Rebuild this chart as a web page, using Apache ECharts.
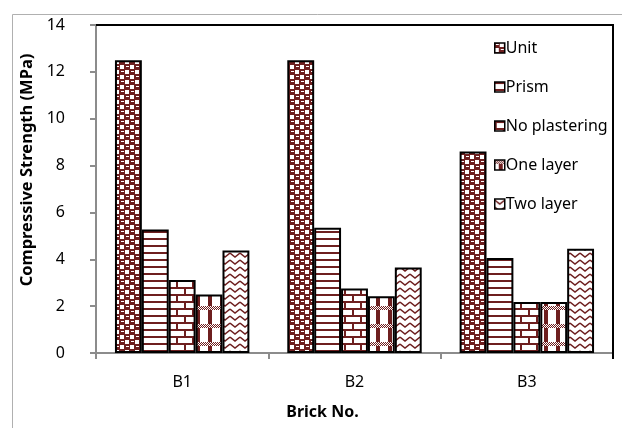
<!DOCTYPE html>
<html>
<head>
<meta charset="utf-8">
<script src="https://cdn.jsdelivr.net/npm/echarts@6/dist/echarts.min.js"></script>
<style>
  html, body { margin: 0; padding: 0; background: #fff; }
  #chart { width: 622px; height: 428px; }
</style>
</head>
<body>
<div id="chart"></div>
<script>
const bricks = ['B1', 'B2', 'B3'];
const seriesNames = ['Unit', 'Prism', 'No plastering', 'One layer', 'Two layer'];
const unit = [12.5, 12.5, 8.6];
const prism = [5.27, 5.35, 4.05];
const noPlastering = [3.12, 2.75, 2.18];
const oneLayer = [2.5, 2.42, 2.18];
const twoLayer = [4.37, 3.65, 4.45];
const yTicks = [0, 14, 2];

const RED = '#6e1f1f';
const W = 622, H = 428;
const GRID = { left: 96, right: 9, top: 25, bottom: 75 };

function tile(w, h, draw) {
  const c = document.createElement('canvas');
  c.width = w;
  c.height = h;
  const g = c.getContext('2d');
  g.fillStyle = '#fff';
  g.fillRect(0, 0, w, h);
  g.fillStyle = RED;
  g.strokeStyle = RED;
  draw(g);
  return { image: c, repeat: 'repeat' };
}

// hatch fills, roughly the Excel pattern fills
const patterns = [
  tile(10, 10, g => {
    g.fillRect(0, 0, 10, 10);
    g.fillStyle = '#fff';
    g.fillRect(5, 0, 4, 4); g.fillRect(0, 5, 4, 4);
    g.fillRect(1, 1, 3, 1); g.fillRect(6, 6, 3, 1);
  }),
  tile(4, 7, g => { g.fillRect(0, 0, 4, 2); }),
  tile(16, 14, g => {
    g.fillRect(0, 0, 16, 2); g.fillRect(0, 7, 16, 2);
    g.fillRect(0, 2, 2, 5); g.fillRect(8, 9, 2, 5);
  }),
  tile(12, 18, g => {
    g.fillRect(4, 0, 4, 18);
    for (let x = 0; x < 12; x++) {
      for (let y = 0; y < 4; y++) {
        g.fillStyle = (x + y) % 2 ? RED : '#fff';
        g.fillRect(x, y, 1, 1);
      }
    }
  }),
  tile(10, 7, g => {
    g.lineWidth = 1.5;
    g.beginPath(); g.moveTo(0, 1); g.lineTo(5, 5); g.lineTo(10, 1); g.stroke();
  })
];

const values = [unit, prism, noPlastering, oneLayer, twoLayer];
const font = '"Noto Sans", sans-serif';

const xR = W - GRID.right;
const yB = H - GRID.bottom;

const chart = echarts.init(document.getElementById('chart'));
chart.setOption({
  animation: false,
  backgroundColor: '#fff',
  textStyle: { fontFamily: font },
  grid: Object.assign({ show: true, borderColor: '#000', borderWidth: 2 }, GRID),
  graphic: {
    elements: [{
      type: 'rect',
      left: 10, top: 12,
      shape: { width: 700, height: 500 },
      style: { fill: null, stroke: '#b0b0b0', lineWidth: 1 },
      silent: true
    }, {
      // black top and right edges of the plot box
      type: 'rect',
      left: GRID.left, top: GRID.top - 1,
      shape: { width: xR - GRID.left, height: 2 },
      style: { fill: '#000' },
      z: 100,
      silent: true
    }, {
      type: 'rect',
      left: xR - 1, top: GRID.top - 1,
      shape: { width: 2, height: yB - GRID.top + 7 },
      style: { fill: '#000' },
      z: 100,
      silent: true
    }]
  },
  legend: {
    orient: 'vertical',
    left: 489,
    top: 35,
    itemWidth: 10,
    itemHeight: 10,
    itemGap: 23,
    icon: 'rect',
    data: seriesNames,
    itemStyle: { borderColor: '#000', borderWidth: 1.5 },
    textStyle: { fontFamily: font, fontSize: 16, color: '#000', padding: [0, 0, 0, -4] }
  },
  xAxis: {
    type: 'category',
    data: bricks,
    name: 'Brick No.',
    nameLocation: 'middle',
    nameGap: 51,
    nameTextStyle: { fontFamily: font, fontSize: 16, fontWeight: 'bold', color: '#000', padding: [0, 64, 0, 0] },
    axisLine: { lineStyle: { color: '#8c8c8c', width: 2 } },
    axisTick: { show: true, length: 6, lineStyle: { color: '#8c8c8c', width: 2 } },
    axisLabel: { margin: 21, fontFamily: font, fontSize: 16, color: '#000' }
  },
  yAxis: {
    type: 'value',
    min: yTicks[0],
    max: yTicks[1],
    interval: yTicks[2],
    name: 'Compressive Strength (MPa)',
    nameLocation: 'middle',
    nameGap: 59,
    nameTextStyle: { fontFamily: font, fontSize: 16.5, fontWeight: 'bold', color: '#000', padding: [0, 0, 0, 38] },
    axisLine: { show: true, lineStyle: { color: '#8c8c8c', width: 2 } },
    axisTick: { show: true, length: 6, lineStyle: { color: '#8c8c8c', width: 2 } },
    splitLine: { show: false },
    axisLabel: { margin: 31, fontFamily: font, fontSize: 16, color: '#000' }
  },
  series: seriesNames.map((name, i) => ({
    name: name,
    type: 'bar',
    data: values[i],
    barGap: '0%',
    barCategoryGap: '22%',
    itemStyle: { color: patterns[i], borderColor: '#000', borderWidth: 2 }
  }))
});
</script>
</body>
</html>
